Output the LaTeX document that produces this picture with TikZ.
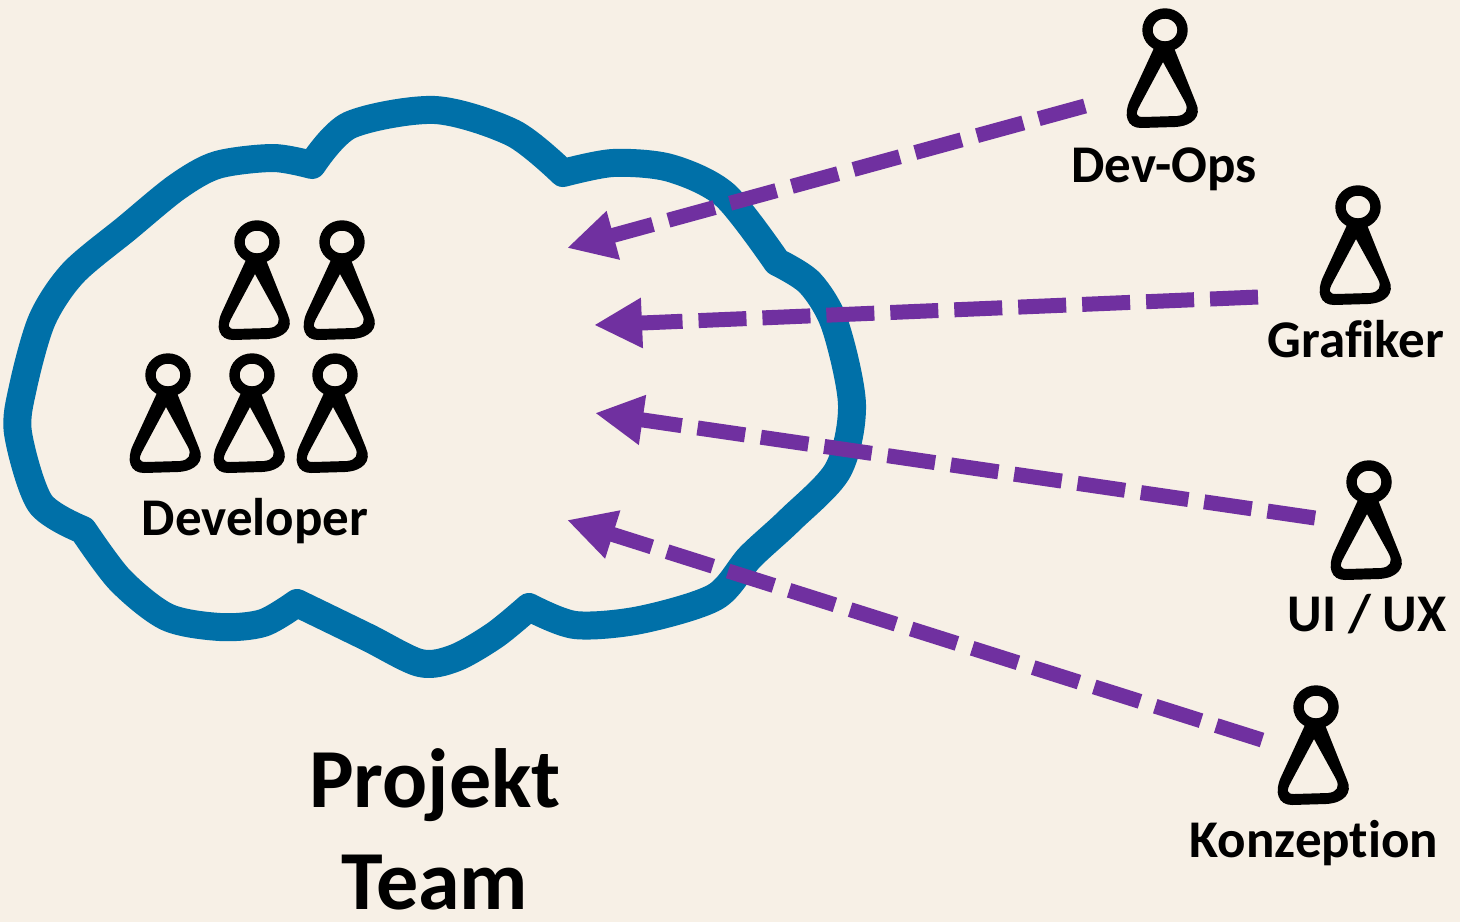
\documentclass[tikz,border=0pt]{standalone}
\usepackage{fontspec}
\setmainfont[Ligatures=NoCommon]{Carlito}
\usepackage{xcolor}
\usetikzlibrary{arrows.meta,positioning}
\definecolor{paper}{HTML}{F7F0E6}
\definecolor{cloudblue}{HTML}{0070A8}
\definecolor{arrowpurple}{HTML}{7030A0}

\tikzset{
  person/.pic={
    \draw [line width=5.2pt] (0,0) ellipse [x radius=17.5, y radius=16.5];
    \fill [even odd rule] (-11,18) -- (-35,70) .. controls (-42,85) and (-38,98) .. (-24,98)
      -- (10,97) .. controls (28,96) and (37,86) .. (31,73) -- (9,18) -- cycle
      (-2,32) -- (-25,75) .. controls (-30,84) and (-29,87) .. (-22,87)
      -- (12,86) .. controls (21,85) and (24,80) .. (20,72) -- cycle;
  },
  label/.style={font=\fontsize{26.5}{26.5}\selectfont\bfseries, inner sep=0pt, anchor=base},
  biglabel/.style={font=\fontsize{42}{42}\selectfont\bfseries, inner sep=0pt, anchor=base},
  dasharrow/.style={-{Triangle[length=24pt,width=23.5pt]}, arrowpurple, line width=7.5pt, dash pattern=on 24pt off 8pt}
}

\begin{document}
\begin{tikzpicture}[x=0.5pt, y=-0.5pt]
% Background
\fill [paper] (0,0) rectangle (1460,922);
\useasboundingbox (0,0) rectangle (1460,922);

% Cloud
\draw [cloudblue, line width=14pt, line join=round]
  plot [smooth] coordinates {(83,530) (40,503) (18,433) (23,387) (42,320) (73,273) (127,228) (177,187) (217,165) (273,158) (312,165)}
  -- plot [smooth] coordinates {(312,165) (350,125) (435,110) (513,133) (563,173)}
  -- plot [smooth] coordinates {(563,173) (613,163) (670,168) (725,195) (777,262)}
  -- plot [smooth] coordinates {(777,262) (810,283) (835,325) (852,405) (838,470) (790,520) (750,557) (715,597) (640,620) (575,625) (529,607)}
  -- plot [smooth] coordinates {(529,607) (495,635) (455,658) (420,663) (367,637) (297,603)}
  -- plot [smooth] coordinates {(297,603) (263,623) (220,627) (167,617) (120,580) (83,530)}
  -- cycle;

% Developer group
\foreach \px/\py [count=\i] in {257/242, 342/242, 168/375, 252/375, 335/375}
  \pic (developer-\i) at (\px,\py) {person};
\node [label] (developer) at (255,535) {Developer};

% Other roles
\pic (devops) at (1165,30) {person};
\node [label] (devops-text) at (1164,182) {Dev-Ops};

\pic (grafiker) at (1358,207) {person};
\node [label] (grafiker-text) at (1356,357) {Grafiker};

\pic (uiux) at (1369,482) {person};
\node [label] (uiux-text) at (1367,631) {UI / UX};

\pic (konzeption) at (1316,707) {person};
\node [label] (konzeption-text) at (1314,857) {Konzeption};

% Team title
\node [biglabel] (projekt) at (435,807) {Projekt};
\node [biglabel] (team) at (435,909) {Team};

% Arrow ends
\coordinate (devops-start) at (1085,106);
\coordinate (devops-end) at (567,248);
\coordinate (grafiker-start) at (1258,297);
\coordinate (grafiker-end) at (594,325);
\coordinate (uiux-start) at (1315,518);
\coordinate (uiux-end) at (595,413);
\coordinate (konzeption-start) at (1262,740);
\coordinate (konzeption-end) at (567,520);

% Connections
\foreach \r in {devops,grafiker,uiux,konzeption}
  \draw [dasharrow] (\r-start) -- (\r-end);
\end{tikzpicture}
\end{document}
